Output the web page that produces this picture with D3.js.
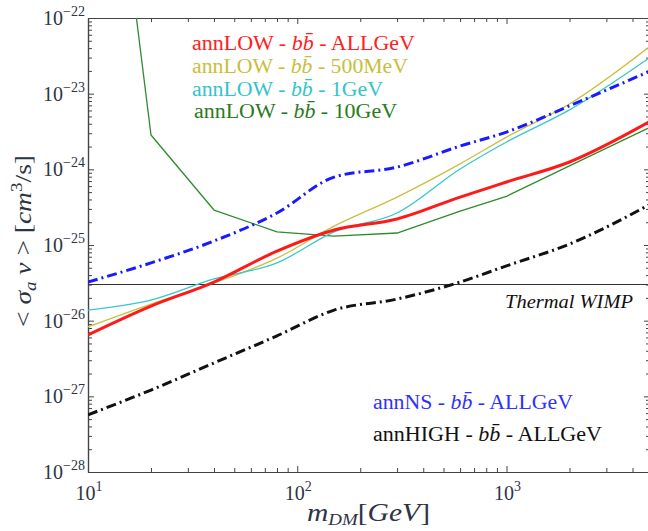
<!DOCTYPE html>
<html><head><meta charset="utf-8">
<script src="https://cdn.jsdelivr.net/npm/d3@7"></script>
<style>body{margin:0;background:#fff}svg{display:block}text{white-space:pre}</style>
</head><body>
<script>
// ---- data ----
const masses      = [10, 20, 40, 80, 150, 300, 600, 1000, 2000, 5000];
const annLowAll   = [6.5e-27, 1.56e-26, 3.24e-26, 8.3e-26, 1.58e-25, 2.21e-25, 4.3e-25, 6.8e-25, 1.25e-24, 4.5e-24];
const annLow500   = [8.3e-27, 1.66e-26, 3.15e-26, 6.7e-26, 1.78e-25, 4.3e-25, 1.18e-24, 2.67e-24, 7.3e-24, 4.5e-23];
const annLow1     = [1.38e-26, 1.87e-26, 3.56e-26, 5.8e-26, 1.49e-25, 2.65e-25, 1.01e-24, 2.30e-24, 6.1e-24, 3.2e-23];
const massesG     = [15, 20, 40, 80, 150, 300, 600, 1000, 2000, 5000];
const annLow10    = [1.7e-21, 2.84e-24, 2.9e-25, 1.49e-25, 1.31e-25, 1.44e-25, 2.8e-25, 4.4e-25, 1.11e-24, 3.74e-24];
const annNS       = [3.24e-26, 5.8e-26, 1.13e-25, 2.65e-25, 7.9e-25, 1.07e-24, 2.03e-24, 3.11e-24, 6.9e-24, 2.06e-23];
const annHigh     = [5.7e-28, 1.21e-27, 2.76e-27, 6.3e-27, 1.38e-26, 1.93e-26, 3.24e-26, 5.3e-26, 1.03e-25, 3.6e-25];
const thermal     = 3e-26;
const xMajor = [10, 100, 1000];
const xMajorExp = ["1", "2", "3"];
const yMajor = [1e-28, 1e-27, 1e-26, 1e-25, 1e-24, 1e-23, 1e-22];
const yMajorExp = ["\u221228", "\u221227", "\u221226", "\u221225", "\u221224", "\u221223", "\u221222"];

const W = 648, H = 531;
const L = 88, R = 650, T = 18, B = 472;
const svg = d3.select("body").append("svg").attr("width", W).attr("height", H);
const x = d3.scaleLog().domain([10, 4850]).range([L, R]);
const y = d3.scaleLog().domain([1e-28, 1e-22]).range([B, T]);

const xMinor = [];
xMajor.forEach(d => { for (let k = 2; k <= 9; k++) if (d * k <= 4850) xMinor.push(d * k); });
const yMinor = [];
yMajor.slice(0, -1).forEach(d => { for (let k = 2; k <= 9; k++) yMinor.push(d * k); });

svg.append("defs").append("clipPath").attr("id", "clip")
  .append("rect").attr("x", L).attr("y", T).attr("width", R - L).attr("height", B - T);

const axisColor = "#444";
function drawAxis(gen, tr, vals, size) {
  const g = svg.append("g").attr("transform", tr)
    .call(gen.tickValues(vals).tickSize(-size).tickSizeOuter(0).tickFormat(""));
  g.selectAll("path").attr("stroke", axisColor).attr("stroke-width", 1.2);
  g.selectAll("line").attr("stroke", axisColor).attr("stroke-width", 1);
}
drawAxis(d3.axisBottom(x), `translate(0,${B})`, xMajor, 6);
drawAxis(d3.axisBottom(x), `translate(0,${B})`, xMinor, 4);
drawAxis(d3.axisTop(x), `translate(0,${T})`, xMajor, 6);
drawAxis(d3.axisTop(x), `translate(0,${T})`, xMinor, 4);
drawAxis(d3.axisLeft(y), `translate(${L},0)`, yMajor, 6);
drawAxis(d3.axisLeft(y), `translate(${L},0)`, yMinor, 4);
drawAxis(d3.axisRight(y), `translate(${R},0)`, yMajor, 6);
drawAxis(d3.axisRight(y), `translate(${R},0)`, yMinor, 4);

const font = "'Liberation Serif', 'DejaVu Serif', serif";
const labColor = "#2e3444";
// y tick labels
yMajor.forEach((d, i) => {
  const t = svg.append("text").attr("x", 85).attr("y", y(d) + 7)
    .attr("text-anchor", "end").attr("font-family", font).attr("font-size", 20).attr("fill", labColor);
  t.append("tspan").text("10");
  t.append("tspan").attr("dy", -9).attr("font-size", 14).text(yMajorExp[i]);
});
// x tick labels
xMajor.forEach((d, i) => {
  const t = svg.append("text").attr("x", x(d) + 1).attr("y", 500)
    .attr("text-anchor", "middle").attr("font-family", font).attr("font-size", 20).attr("fill", labColor);
  t.append("tspan").text("10");
  t.append("tspan").attr("dy", -9).attr("font-size", 14).text(xMajorExp[i]);
});

// thermal line
svg.append("line").attr("x1", L).attr("x2", R).attr("y1", y(thermal)).attr("y2", y(thermal))
  .attr("stroke", "#333").attr("stroke-width", 1.1);

const plot = svg.append("g").attr("clip-path", "url(#clip)");
function curve(ms, vs, color, w, dash, smooth) {
  const line = d3.line().x(d => x(d[0])).y(d => y(d[1]))
    .curve(smooth ? d3.curveMonotoneX : d3.curveLinear);
  plot.append("path").attr("d", line(ms.map((m, i) => [m, vs[i]])))
    .attr("fill", "none").attr("stroke", color).attr("stroke-width", w)
    .attr("stroke-dasharray", dash || null).attr("stroke-linejoin", "round");
}
curve(massesG, annLow10, "#2e8b2e", 1.3, null, false);
curve(masses, annLow500, "#c8c040", 1.3, null, true);
curve(masses, annLow1, "#35c8cc", 1.3, null, true);
curve(masses, annNS, "#1a1aff", 3, "10,4,2,4", true);
curve(masses, annHigh, "#111", 3, "10,4,2,4", true);
curve(masses, annLowAll, "#ff1a1a", 3, null, true);

// legends
function legend(xp, yp, len, color, tail) {
  const t = svg.append("text").attr("x", xp).attr("y", yp).attr("font-family", font)
    .attr("font-size", 20).attr("fill", color)
    .attr("textLength", len).attr("lengthAdjust", "spacingAndGlyphs");
  t.append("tspan").text(tail[0] + " - ");
  t.append("tspan").attr("font-style", "italic").text("bb\u0304");
  t.append("tspan").text(" - " + tail[1]);
}
legend(192, 50, 223, "#ff2020", ["annLOW", "ALLGeV"]);
legend(192, 73, 216, "#c8be3c", ["annLOW", "500MeV"]);
legend(192, 96, 191, "#33c4c8", ["annLOW", "1GeV"]);
legend(194, 118, 203, "#2a7a20", ["annLOW", "10GeV"]);
legend(373, 409, 200, "#3030ff", ["annNS", "ALLGeV"]);
legend(373, 441, 229, "#111", ["annHIGH", "ALLGeV"]);

// thermal WIMP
svg.append("text").attr("x", 505).attr("y", 308).attr("font-family", font).attr("font-size", 18)
  .attr("font-style", "italic").attr("fill", "#111").attr("textLength", 128)
  .attr("lengthAdjust", "spacingAndGlyphs").text("Thermal WIMP");

// x axis label
const xl = svg.append("text").attr("x", 307).attr("y", 521).attr("font-family", font)
  .attr("font-size", 25).attr("fill", labColor).attr("textLength", 123).attr("lengthAdjust", "spacingAndGlyphs");
xl.append("tspan").attr("font-style", "italic").text("m");
xl.append("tspan").attr("font-style", "italic").attr("font-size", 16).attr("dy", 4).text("DM");
xl.append("tspan").attr("dy", -4).text("[");
xl.append("tspan").attr("font-style", "italic").text("GeV");
xl.append("tspan").text("]");

// y axis label
const yl = svg.append("text").attr("transform", "translate(31,241) rotate(-90)")
  .attr("text-anchor", "middle").attr("font-family", font).attr("font-size", 23).attr("fill", labColor)
  .attr("textLength", 172).attr("lengthAdjust", "spacingAndGlyphs");
yl.append("tspan").text("< ");
yl.append("tspan").attr("font-style", "italic").text("\u03c3");
yl.append("tspan").attr("font-style", "italic").attr("font-size", 16).attr("dy", 5).text("a");
yl.append("tspan").attr("font-style", "italic").attr("dy", -5).text(" v");
yl.append("tspan").text(" > [");
yl.append("tspan").attr("font-style", "italic").text("cm");
yl.append("tspan").attr("font-size", 16).attr("dy", -9).text("3");
yl.append("tspan").attr("dy", 9).text("/s]");
</script>
</body></html>
